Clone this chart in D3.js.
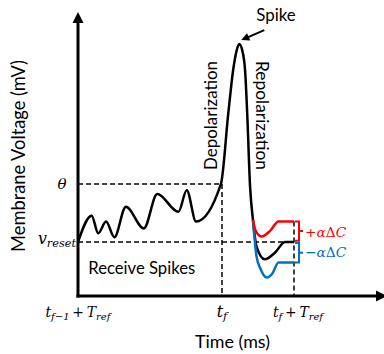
<!DOCTYPE html>
<html><head><meta charset="utf-8">
<script src="https://cdn.jsdelivr.net/npm/d3@7"></script>
<style>body{margin:0;background:#fff}svg{display:block}</style>
</head><body>
<svg id="c" width="384" height="354"></svg>
<script>
// Schematic LIF neuron membrane trace. time in ms (0 = t_{f-1}+T_ref), voltage in mV
const V_RESET = -70, THETA = -55;
const T_F = 4, T_REF = 2;
const ALPHA_DC = 5.3;
const mainTime = [0,0.38,0.56,0.78,1.01,1.33,1.83,2.20,2.79,3.02,3.28,3.97,4.175,4.31,4.41,4.48,4.56,4.64,4.70,4.78,4.86,4.96,5.19,5.47,5.75,6.0];
const mainVolt = [-70,-63.2,-67.75,-64.75,-68.8,-60.9,-66.5,-57.6,-62.2,-56.6,-64.75,-55,-36.7,-25.5,-20.35,-18.8,-20.35,-25.5,-36.7,-55.7,-64.3,-71.2,-74.5,-72.8,-70,-70];
const redTime = [4.86,4.94,5.10,5.33,5.57,6.0];
const redVolt = [-64.3,-67.2,-68.6,-67.2,-64.7,-64.7];
const blueTime = [4.86,4.96,5.08,5.24,5.39,5.57,6.0];
const blueVolt = [-64.3,-73.8,-77.2,-79.2,-78.3,-75.3,-75.3];
const xDomain = [0, 8.5];
const yDomain = [-84, -10.5];
const labels = {y:"Membrane Voltage (mV)", x:"Time (ms)", spike:"Spike", dep:"Depolarization", rep:"Repolarization", recv:"Receive Spikes"};

const RED = "#ff0000", BLUE = "#0070c0";
const svg = d3.select("#c");
const x = d3.scaleLinear().domain(xDomain).range([78, 384]);
const y = d3.scaleLinear().domain(yDomain).range([296, 12]);
const SANS = "Lato, 'Open Sans', sans-serif";
const MATH = "'DejaVu Serif', 'Liberation Serif', serif";

const zip = (t, v) => t.map((d, i) => [d, v[i]]);
const line = d3.line().x(d => x(d[0])).y(d => y(d[1])).curve(d3.curveMonotoneX);

// dashed guides
const dash = svg.append("g").attr("stroke", "#000").attr("stroke-width", 1.5).attr("stroke-dasharray", "5,3").attr("fill", "none");
dash.append("line").attr("x1", x(0)).attr("x2", x(T_F)).attr("y1", y(THETA)).attr("y2", y(THETA));
dash.append("line").attr("x1", x(0)).attr("x2", x(T_F + T_REF)).attr("y1", y(V_RESET)).attr("y2", y(V_RESET));
dash.append("line").attr("x1", x(T_F)).attr("x2", x(T_F)).attr("y1", y(THETA)).attr("y2", y(yDomain[0]));
dash.append("line").attr("x1", x(T_F + T_REF)).attr("x2", x(T_F + T_REF)).attr("y1", y(V_RESET + ALPHA_DC)).attr("y2", y(yDomain[0]));

// curves
svg.append("path").attr("d", line(zip(mainTime, mainVolt))).attr("fill", "none").attr("stroke", "#000").attr("stroke-width", 2.5);
svg.append("path").attr("d", line(zip(blueTime, blueVolt))).attr("fill", "none").attr("stroke", BLUE).attr("stroke-width", 2.5);
svg.append("path").attr("d", line(zip(redTime, redVolt))).attr("fill", "none").attr("stroke", RED).attr("stroke-width", 2.5);

// axes
const ax = svg.append("g");
ax.append("line").attr("x1", x(0)).attr("x2", x(0)).attr("y1", y(yDomain[0]) + 1.5).attr("y2", y(yDomain[1]) + 8).attr("stroke", "#000").attr("stroke-width", 3);
ax.append("path").attr("d", `M${x(0)},${y(yDomain[1])}l-5.5,11h11z`).attr("fill", "#000");
ax.append("line").attr("x1", x(0) - 1.5).attr("x2", x(xDomain[1]) - 6).attr("y1", y(yDomain[0])).attr("y2", y(yDomain[0])).attr("stroke", "#000").attr("stroke-width", 3);
ax.append("path").attr("d", `M${x(xDomain[1]) + 3},${y(yDomain[0])}l-11,-5.5v11z`).attr("fill", "#000");

// brackets
function bracket(v0, v1, color) {
  const xb = x(T_F + T_REF) + 5, y0 = y(v0), y1 = y(v1), ym = (y0 + y1) / 2;
  svg.append("path").attr("d", `M${xb - 4},${y0}H${xb}V${y1}H${xb - 4}M${xb},${ym}H${xb + 4}`)
    .attr("fill", "none").attr("stroke", color).attr("stroke-width", 2);
}
bracket(V_RESET + ALPHA_DC, V_RESET + 0.3, RED);
bracket(V_RESET - 0.3, V_RESET - ALPHA_DC, BLUE);

// math text helper: parts = [[text, italic, isSub]]
function mathText(xp, yp, anchor, parts, target, color = "#000", base = 15, minK = 0.85, subRatio = 0.72) {
  const t = svg.append("text").attr("x", xp).attr("y", yp).attr("text-anchor", anchor)
    .attr("font-family", MATH).attr("fill", color).attr("font-size", base);
  let shifted = false;
  parts.forEach(([txt, it, isSub]) => {
    const s = t.append("tspan").attr("font-style", it ? "italic" : "normal").text(txt);
    if (isSub && !shifted) { s.attr("dy", 1); shifted = true; }
    else if (!isSub && shifted) { s.attr("dy", -1); shifted = false; }
    s.classed("sub", !!isSub);
  });
  const fitSize = (sz) => {
    t.attr("font-size", sz);
    t.selectAll("tspan").each(function () {
      const e = d3.select(this);
      if (e.classed("sub")) e.attr("font-size", sz * subRatio);
      if (e.attr("dy") != null) e.attr("dy", Math.sign(+e.attr("dy")) * sz * 0.22);
    });
  };
  fitSize(base);
  if (target) {
    const w = t.node().getComputedTextLength();
    const k = Math.max(minK, Math.min(1.05, target / w));
    fitSize(base * k);
  }
  return t;
}

mathText(x(T_F + T_REF) + 11, y(V_RESET + ALPHA_DC / 2) + 5, "start",
  [["+", false], ["α", true], ["Δ", false], ["C", true]], 38, RED, 14.5, 0.95);
mathText(x(T_F + T_REF) + 11, y(V_RESET - ALPHA_DC / 2) + 5, "start",
  [["−", false], ["α", true], ["Δ", false], ["C", true]], 38, BLUE, 14.5, 0.95);

mathText(x(0) - 16, y(THETA) + 5, "middle", [["θ", true]], null, "#000", 15);
mathText(x(0) - 2, y(V_RESET) + 2, "end", [["v", true], ["reset", true, true]], 40);
mathText(x(0), 317, "middle", [["t", true], ["f−1", true, true], ["\u2009+\u2009", false], ["T", true], ["ref", true, true]], 65);
mathText(x(T_F), 317, "middle", [["t", true], ["f", true, true]], 13);
mathText(x(T_F + T_REF) + 4, 317, "middle", [["t", true], ["f", true, true], ["\u2009+\u2009", false], ["T", true], ["ref", true, true]], 50);

// plain labels fitted to reference widths
function label(txt, xp, yp, rot, anchor, target) {
  const s = svg.append("text").attr("font-family", SANS).attr("font-size", 17).attr("fill", "#000")
    .attr("text-anchor", anchor).attr("transform", `translate(${xp},${yp}) rotate(${rot})`).text(txt);
  const w = s.node().getComputedTextLength();
  s.attr("font-size", 17 * target / w);
  return s;
}
label(labels.y, 25, 156, -90, "middle", 192);
label(labels.x, 232.5, 348, 0, "middle", 75);
label(labels.spike, 276, 20.5, 0, "middle", 39.5);
label(labels.dep, 217, 115.5, -90, "middle", 109);
label(labels.rep, 256, 115.5, 90, "middle", 109);
label(labels.recv, 88.3, 274, 0, "start", 107);

// spike arrow
const tipX = x(mainTime[15]) + 2, tipY = y(mainVolt[15]) - 4;
const ang = Math.atan2(-10, 23);
svg.append("line").attr("x1", tipX + 23).attr("y1", tipY - 10).attr("x2", tipX + 5 * Math.cos(ang)).attr("y2", tipY + 5 * Math.sin(ang)).attr("stroke", "#000").attr("stroke-width", 2);
svg.append("path").attr("d", "M0,0L8,-4L8,4Z").attr("fill", "#000")
  .attr("transform", `translate(${tipX},${tipY}) rotate(${ang * 180 / Math.PI})`);
</script>
</body></html>
